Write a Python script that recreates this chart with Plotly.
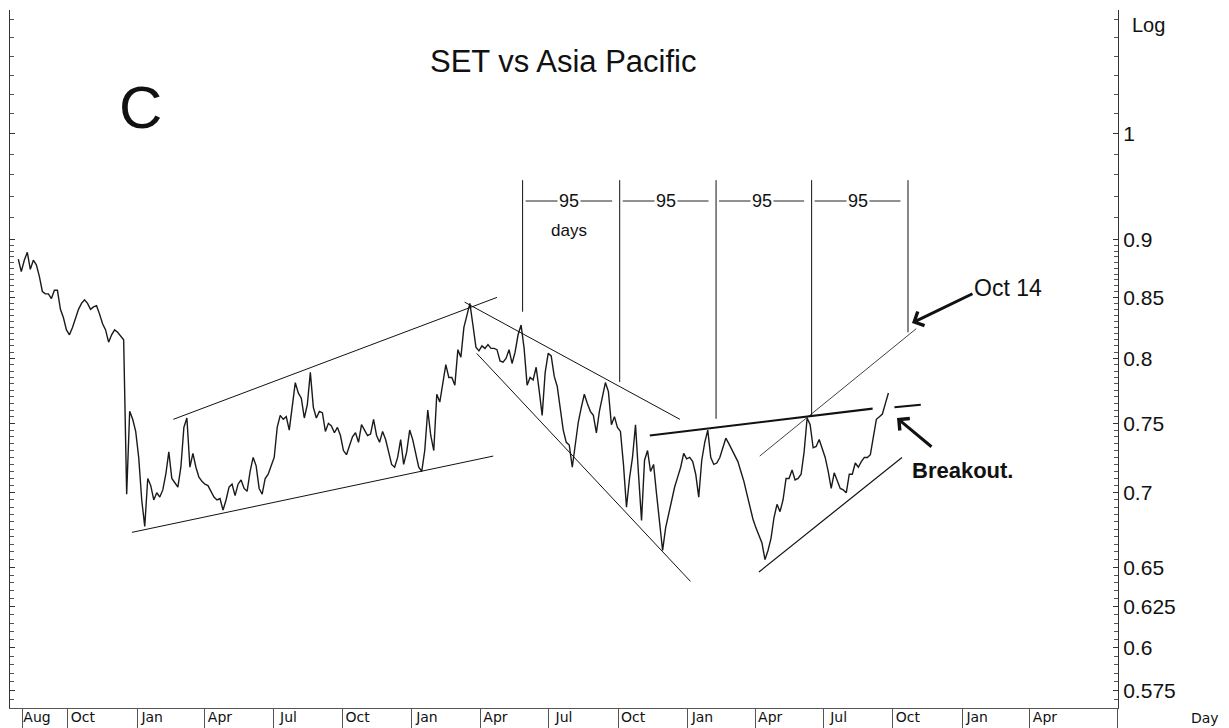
import pandas as pd
import numpy as np
import plotly.graph_objects as go

# ---------------- data ----------------
chart_title = "SET vs Asia Pacific"
series_start = "2006-07-27"
series_step = "4D"
ratio_values = [
    0.883, 0.872, 0.882, 0.889, 0.874, 0.882, 0.878, 0.868, 0.855, 0.853,
    0.853, 0.849, 0.856, 0.856, 0.840, 0.833, 0.823, 0.819, 0.825, 0.833,
    0.840, 0.845, 0.848, 0.845, 0.840, 0.842, 0.843, 0.836, 0.828, 0.823,
    0.813, 0.819, 0.823, 0.821, 0.818, 0.815, 0.699, 0.759, 0.753, 0.744,
    0.725, 0.695, 0.677, 0.710, 0.705, 0.695, 0.700, 0.697, 0.702, 0.713,
    0.729, 0.710, 0.707, 0.704, 0.718, 0.747, 0.754, 0.718, 0.728, 0.718,
    0.711, 0.708, 0.706, 0.705, 0.701, 0.697, 0.695, 0.696, 0.688, 0.695,
    0.704, 0.706, 0.698, 0.706, 0.709, 0.703, 0.701, 0.715, 0.725, 0.719,
    0.703, 0.699, 0.710, 0.713, 0.719, 0.725, 0.747, 0.756, 0.753, 0.755,
    0.745, 0.762, 0.781, 0.773, 0.769, 0.754, 0.764, 0.789, 0.762, 0.754,
    0.759, 0.758, 0.744, 0.750, 0.748, 0.743, 0.747, 0.741, 0.730, 0.727,
    0.733, 0.740, 0.743, 0.736, 0.749, 0.745, 0.741, 0.742, 0.753, 0.741,
    0.736, 0.744, 0.738, 0.729, 0.720, 0.718, 0.725, 0.738, 0.720, 0.729,
    0.745, 0.738, 0.729, 0.718, 0.715, 0.730, 0.760, 0.741, 0.730, 0.772,
    0.766, 0.779, 0.795, 0.785, 0.785, 0.779, 0.807, 0.801, 0.825, 0.835,
    0.845, 0.827, 0.809, 0.806, 0.810, 0.808, 0.811, 0.808, 0.808, 0.807,
    0.798, 0.797, 0.800, 0.807, 0.796, 0.805, 0.819, 0.827, 0.808, 0.779,
    0.785, 0.783, 0.793, 0.775, 0.756, 0.789, 0.804, 0.802, 0.786, 0.778,
    0.759, 0.745, 0.736, 0.734, 0.718, 0.736, 0.751, 0.762, 0.772, 0.765,
    0.759, 0.756, 0.743, 0.759, 0.770, 0.781, 0.774, 0.749, 0.755, 0.747,
    0.744, 0.720, 0.690, 0.710, 0.725, 0.749, 0.713, 0.681, 0.723, 0.730,
    0.715, 0.720, 0.699, 0.678, 0.661, 0.676, 0.685, 0.695, 0.704, 0.711,
    0.718, 0.728, 0.724, 0.725, 0.722, 0.713, 0.697, 0.723, 0.736, 0.745,
    0.725, 0.720, 0.721, 0.725, 0.733, 0.739, 0.735, 0.731, 0.726, 0.722,
    0.715, 0.708, 0.699, 0.690, 0.682, 0.676, 0.671, 0.666, 0.655, 0.661,
    0.669, 0.683, 0.692, 0.687, 0.695, 0.710, 0.710, 0.716, 0.709, 0.710,
    0.713, 0.729, 0.754, 0.749, 0.732, 0.733, 0.738, 0.731, 0.725, 0.715,
    0.703, 0.714, 0.709, 0.703, 0.702, 0.700, 0.713, 0.713, 0.721, 0.718,
    0.722, 0.725, 0.725, 0.727, 0.740, 0.753, 0.755, 0.757, 0.765, 0.773,
]

x_range = ["2006-07-16", "2010-07-27"]
x_tick_dates = ["2006-08-01", "2006-10-01", "2007-01-01", "2007-04-01", "2007-07-01",
                "2007-10-01", "2008-01-01", "2008-04-01", "2008-07-01", "2008-10-01",
                "2009-01-01", "2009-04-01", "2009-07-01", "2009-10-01", "2010-01-01",
                "2010-04-01", "2010-07-26"]
x_tick_text = ["Aug", "Oct", "Jan", "Apr", "Jul", "Oct", "Jan", "Apr", "Jul", "Oct",
               "Jan", "Apr", "Jul", "Oct", "Jan", "Apr", ""]

y_range_values = [0.5652, 1.131]
y_tick_vals = [0.575, 0.6, 0.625, 0.65, 0.7, 0.75, 0.8, 0.85, 0.9, 1.0]
y_tick_text = ["0.575", "0.6", "0.625", "0.65", "0.7", "0.75", "0.8", "0.85", "0.9", "1"]

# trend lines drawn on the chart
trend_start_dates = ["2007-02-18", "2006-12-25", "2008-03-11", "2008-03-27",
                     "2008-11-12", "2009-04-07", "2009-04-06", "2009-10-03"]
trend_end_dates = ["2008-04-23", "2008-04-18", "2008-12-22", "2009-01-05",
                   "2009-09-04", "2009-11-01", "2009-10-13", "2009-11-07"]
trend_start_vals = [0.753, 0.673, 0.846, 0.804, 0.741, 0.726, 0.647, 0.762]
trend_end_vals = [0.850, 0.726, 0.753, 0.641, 0.761, 0.824, 0.725, 0.764]
trend_widths = [1, 1, 1, 1, 2.2, 0.8, 1.2, 2]

# 95-day cycle lines
cycle_dates = ["2008-05-27", "2008-10-03", "2009-02-08", "2009-06-15", "2009-10-21"]
cycle_top = 0.955
cycle_bottoms = [0.838, 0.7815, 0.7534, 0.755, 0.821]
cycle_label = "95"

# ---------------- figure ----------------
dates = pd.date_range(series_start, periods=len(ratio_values), freq=series_step)

fig = go.Figure()
fig.add_trace(go.Scatter(x=dates, y=ratio_values, mode="lines",
                         line=dict(color="#1a1a1a", width=1.4), hoverinfo="skip"))

for d0, d1, v0, v1, w in zip(trend_start_dates, trend_end_dates,
                             trend_start_vals, trend_end_vals, trend_widths):
    fig.add_trace(go.Scatter(x=[d0, d1], y=[v0, v1], mode="lines",
                             line=dict(color="#111", width=w), hoverinfo="skip"))

for d, vb in zip(cycle_dates, cycle_bottoms):
    fig.add_trace(go.Scatter(x=[d, d], y=[cycle_top, vb], mode="lines",
                             line=dict(color="#111", width=1), hoverinfo="skip"))

# page has an 8px body margin: figure is placed at (8, 8) in the window
OFF = 8
PLOT_L, PLOT_R, PLOT_T, PLOT_B = 10, 1118, 10, 708   # window pixel coords
WIN_W, WIN_H = 1229, 728
W, H = WIN_W - OFF, WIN_H - OFF


def px(xp):
    return (xp - PLOT_L) / (PLOT_R - PLOT_L)


def py(yp):
    return (PLOT_B - yp) / (PLOT_B - PLOT_T)


def txt(xp, yp, text, size, family="Liberation Sans"):
    return dict(x=px(xp), y=py(yp), xref="paper", yref="paper", text=text,
                showarrow=False, xanchor="center", yanchor="middle",
                font=dict(family=family, size=size, color="#111"))


shapes = []
annotations = []
cyc = pd.to_datetime(cycle_dates)
label_y = py(201)
for a, b in zip(cyc[:-1], cyc[1:]):
    shapes.append(dict(type="line", xref="x", yref="paper",
                       x0=a + pd.Timedelta(days=4), x1=b - pd.Timedelta(days=10),
                       y0=label_y, y1=label_y, line=dict(color="#222", width=1)))
    mid = a + (b - a) / 2 - pd.Timedelta(days=3)
    annotations.append(dict(x=mid, y=label_y, xref="x", yref="paper", text=cycle_label,
                            showarrow=False, bgcolor="white", borderpad=1,
                            xanchor="center", yanchor="middle",
                            font=dict(family="Liberation Sans", size=18, color="#111")))
first_mid = cyc[0] + (cyc[1] - cyc[0]) / 2 - pd.Timedelta(days=3)
annotations.append(dict(x=first_mid, y=py(230), xref="x", yref="paper", text="days",
                        showarrow=False, xanchor="center", yanchor="middle",
                        font=dict(family="Liberation Sans", size=17, color="#111")))

annotations += [
    txt(563, 62, chart_title, 31),
    txt(140, 107, "C", 60),
    txt(1008, 288, "Oct 14", 23),
    dict(x=px(912), y=py(323), xref="paper", yref="paper", text="", showarrow=True,
         ax=62, ay=-30, arrowhead=4, arrowsize=1, arrowwidth=3, arrowcolor="#111"),
    txt(962, 470, "<b>Breakout.</b>", 22),
    dict(x=px(897), y=py(418), xref="paper", yref="paper", text="", showarrow=True,
         ax=36, ay=30, arrowhead=4, arrowsize=1, arrowwidth=3, arrowcolor="#111"),
    txt(1148, 25, "Log", 20),
    txt(1205, 718, "Day", 14, "DejaVu Sans"),
]

minor_vals = [round(v, 3) for v in np.arange(0.565, 0.9, 0.005)] + \
             [round(v, 2) for v in np.arange(0.92, 1.14, 0.02)]
minor_vals = [v for v in minor_vals if v not in y_tick_vals]

fig.update_layout(
    width=W, height=H, autosize=False,
    margin=dict(l=PLOT_L - OFF, r=WIN_W - PLOT_R, t=PLOT_T - OFF, b=WIN_H - PLOT_B, pad=0),
    paper_bgcolor="white", plot_bgcolor="white", showlegend=False,
    shapes=shapes, annotations=annotations,
    xaxis=dict(type="date", range=x_range, tickmode="array", tickvals=x_tick_dates,
               ticktext=x_tick_text, ticks="outside", ticklen=20, tickwidth=1,
               tickcolor="#555", showline=True, linecolor="#555", linewidth=1,
               showgrid=False, zeroline=False, ticklabelshift=15, ticklabelstandoff=-24,
               automargin=False,
               tickfont=dict(family="DejaVu Sans", size=14, color="#111")),
    yaxis=dict(type="log", range=[np.log10(y_range_values[0]), np.log10(y_range_values[1])],
               side="right", tickmode="array", tickvals=y_tick_vals, ticktext=y_tick_text,
               ticks="inside", ticklen=5, tickcolor="#333", showline=True, linecolor="#333",
               mirror="ticks", showgrid=False, zeroline=False, automargin=False,
               minor=dict(tickmode="array", tickvals=minor_vals, ticks="inside", ticklen=4,
                          tickcolor="#555", showgrid=False),
               tickfont=dict(family="Liberation Sans", size=21, color="#111")),
)

fig.write_html("out.html")
